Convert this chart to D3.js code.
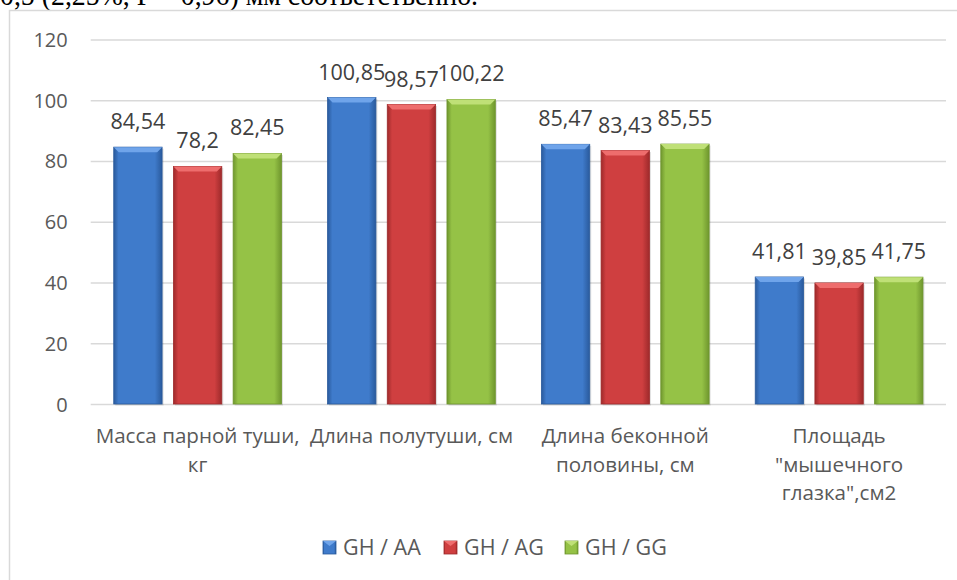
<!DOCTYPE html>
<html>
<head>
<meta charset="utf-8">
<title>Carcass traits</title>
<style>
  body { margin: 0; background: #fff; }
  svg { display: block; }
  .tick text, .cat, .lbl, .leg { font-family: "Open Sans", sans-serif; fill: #595959; }
  .lbl { fill: #404040; }
</style>
<script src="https://cdn.jsdelivr.net/npm/d3@7"></script>
</head>
<body>
<svg id="chart"></svg>
<script>
var categories = ["Масса парной туши, кг", "Длина полутуши, см", "Длина беконной половины, см", "Площадь \"мышечного глазка\",см2"];
var catLines = [["Масса парной туши,", "кг"], ["Длина полутуши, см"], ["Длина беконной", "половины, см"], ["Площадь", "\"мышечного", "глазка\",см2"]];
var series = ["GH / AA", "GH / AG", "GH / GG"];
var valsAA = [84.54, 100.85, 85.47, 41.81];
var valsAG = [78.2, 98.57, 83.43, 39.85];
var valsGG = [82.45, 100.22, 85.55, 41.75];
var yTicks = [0, 20, 40, 60, 80, 100, 120];

var width = 957, height = 580;
var svg = d3.select("#chart").attr("width", width).attr("height", height);

// shades per series: edge, body, top bevel
var colors = [
  {edge: "#2a5a9c", body: "#3f7bcb", top: "#6fa4ea"},
  {edge: "#9e2a2b", body: "#cf3f40", top: "#ee6d6d"},
  {edge: "#6f962e", body: "#95c246", top: "#bfe077"}
];

var defs = svg.append("defs");
colors.forEach(function(c, i) {
  var g = defs.append("linearGradient").attr("id", "body" + i)
    .attr("x1", "0%").attr("x2", "100%").attr("y1", "0%").attr("y2", "0%");
  g.append("stop").attr("offset", "0%").attr("stop-color", c.edge);
  g.append("stop").attr("offset", "10%").attr("stop-color", c.body);
  g.append("stop").attr("offset", "85%").attr("stop-color", c.body);
  g.append("stop").attr("offset", "100%").attr("stop-color", c.edge);
});

// paragraph fragment cut off above the chart frame
svg.append("text")
  .attr("x", 0).attr("y", 5)
  .style("font-family", "'Liberation Serif', serif")
  .style("font-size", "30px")
  .style("fill", "#000")
  .attr("textLength", 478).attr("lengthAdjust", "spacingAndGlyphs")
  .text("0,5 (2,25%, P = 0,96) мм соответственно.");

// chart frame
svg.append("rect")
  .attr("x", 9.5).attr("y", 10.5)
  .attr("width", 960).attr("height", 600)
  .attr("fill", "none").attr("stroke", "#d9d9d9").attr("stroke-width", 1.5);

var margin = {left: 90.7, right: 11, top: 39.4, bottom: 176};

var y = d3.scaleLinear().domain([0, 120]).range([height - margin.bottom, margin.top]);
var x0 = d3.scaleBand().domain(categories).range([margin.left, width - margin.right]);
var x1 = d3.scaleBand().domain(series).range([0, x0.bandwidth()])
  .paddingInner(0.19).paddingOuter(0.386);

// grid
var yAxis = d3.axisLeft(y).tickValues(yTicks).tickSize(-(width - margin.right - margin.left)).tickPadding(23);
var ga = svg.append("g").attr("transform", "translate(" + margin.left + ",0)").call(yAxis);
ga.select(".domain").remove();
ga.selectAll(".tick line").attr("stroke", "#d9d9d9").attr("stroke-width", 1.5);
ga.selectAll(".tick text").style("font-size", "20px").attr("dy", "0.35em");

var seriesVals = [valsAA, valsAG, valsGG];

categories.forEach(function(cat, ci) {
  var g = svg.append("g").attr("transform", "translate(" + x0(cat) + ",0)");
  series.forEach(function(s, si) {
    var v = seriesVals[si][ci];
    var bx = x1(s), bw = x1.bandwidth();
    var top = y(v), bot = y(0);
    var c = colors[si];
    // soft shadow
    g.append("rect").attr("x", bx + 1.5).attr("y", top + 1.5).attr("width", bw).attr("height", bot - top)
      .attr("fill", "#000").attr("opacity", 0.12);
    g.append("rect").attr("x", bx).attr("y", top).attr("width", bw).attr("height", bot - top)
      .attr("fill", "url(#body" + si + ")").attr("stroke", c.edge).attr("stroke-width", 0.8);
    // top bevel
    var b = 5;
    g.append("path")
      .attr("d", "M" + bx + "," + top + "L" + (bx + bw) + "," + top + "L" + (bx + bw - b) + "," + (top + b) +
        "L" + (bx + b) + "," + (top + b) + "Z")
      .attr("fill", c.top);
    // data label
    g.append("text").attr("class", "lbl")
      .attr("x", bx + bw / 2).attr("y", top - 18)
      .attr("text-anchor", "middle")
      .style("font-size", "21.5px")
      .text(String(v).replace(".", ","));
  });
  // category label
  var t = svg.append("text").attr("class", "cat")
    .attr("text-anchor", "middle")
    .style("font-size", "20.6px");
  catLines[ci].forEach(function(line, li) {
    t.append("tspan").attr("x", x0(cat) + x0.bandwidth() / 2).attr("y", 443 + li * 28.5).text(line);
  });
});

// legend
var legX = [323, 444, 565];
series.forEach(function(s, si) {
  var c = colors[si];
  var lg = svg.append("g").attr("transform", "translate(" + legX[si] + ",541)");
  lg.append("rect").attr("width", 13).attr("height", 13).attr("fill", "url(#body" + si + ")")
    .attr("stroke", c.edge).attr("stroke-width", 0.8);
  lg.append("path").attr("d", "M0,0L13,0L6.5,5Z").attr("fill", c.top);
  lg.append("text").attr("class", "leg").attr("x", 20).attr("y", 13.5).style("font-size", "21.5px").text(s);
});
</script>
</body>
</html>
